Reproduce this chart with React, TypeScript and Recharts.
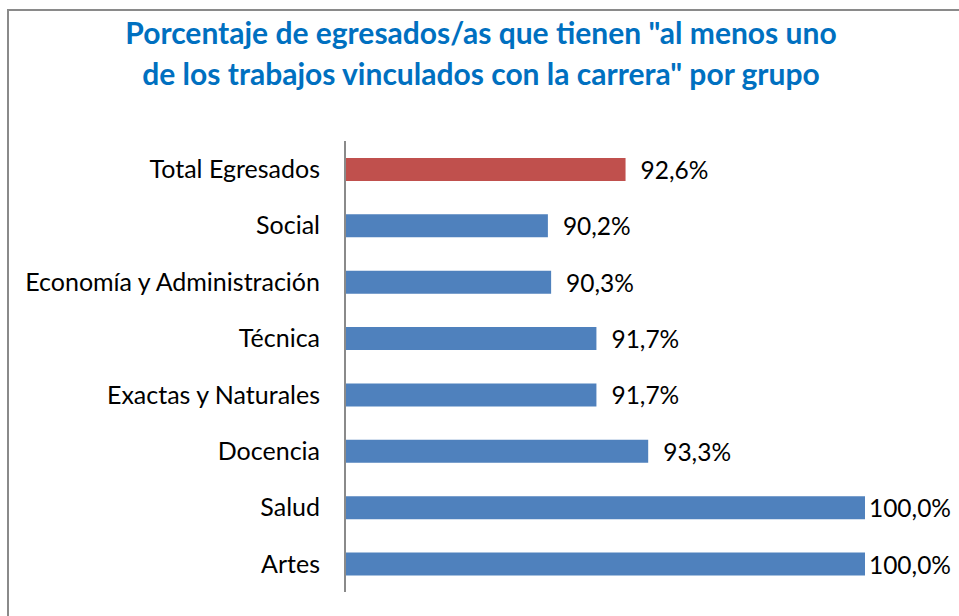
import React from "react";
import { BarChart, Bar, XAxis, YAxis, Cell, LabelList } from "recharts";

const categories = [
  "Total Egresados",
  "Social",
  "Economía y Administración",
  "Técnica",
  "Exactas y Naturales",
  "Docencia",
  "Salud",
  "Artes",
];
const values = [92.6, 90.2, 90.3, 91.7, 91.7, 93.3, 100.0, 100.0];
const colors = ["#C0504D", "#4F81BD", "#4F81BD", "#4F81BD", "#4F81BD", "#4F81BD", "#4F81BD", "#4F81BD"];
const titleLines = [
  'Porcentaje de egresados/as que tienen "al menos uno',
  'de los trabajos vinculados con la carrera" por grupo',
];

const data = categories.map((c, i) => ({ name: c, value: values[i] }));

const FONT = "Lato, 'Open Sans', sans-serif";

const fmt = (v: number) => v.toFixed(1).replace(".", ",") + "%";

const ValueLabel = (props: any) => {
  const { x, y, width, height, value } = props;
  const end = Number(x) + Number(width);
  const tx = end + 15;
  const fits = tx + 80 <= 955;
  return (
    <text
      x={fits ? tx : 951}
      y={Number(y) + Number(height) / 2}
      textAnchor={fits ? "start" : "end"}
      dominantBaseline="central"
      fill="#000"
      fontSize={24.5}
      fontFamily={FONT}
    >
      {fmt(Number(value))}
    </text>
  );
};

export default function App() {
  return (
    <div style={{ position: "absolute", left: 0, top: 0, width: 959, height: 616, background: "#fff", overflow: "hidden" }}>
      <div
        style={{
          position: "absolute",
          left: 7,
          top: 9,
          width: 1000,
          height: 700,
          borderLeft: "2px solid #8a8a8a",
          borderTop: "2px solid #8a8a8a",
        }}
      />
      <div
        style={{
          position: "absolute",
          left: 0,
          top: 12,
          width: 962,
          textAlign: "center",
          fontFamily: FONT,
          fontWeight: 700,
          fontSize: 30,
          lineHeight: "41px",
          color: "#0070C0",
        }}
      >
        {titleLines.map((t, i) => (
          <div key={i}>{t}</div>
        ))}
      </div>
      <div style={{ position: "absolute", left: 0, top: 0 }}>
        <BarChart
          width={959}
          height={616}
          data={data}
          layout="vertical"
          margin={{ top: 141, right: 94, bottom: 24, left: 0 }}
          barCategoryGap="30%"
        >
          <XAxis type="number" hide domain={[83.93, 100]} allowDataOverflow />
          <YAxis
            type="category"
            dataKey="name"
            width={345}
            axisLine={{ stroke: "#8a8a8a", strokeWidth: 2 }}
            tickLine={false}
            tickSize={0}
            tickMargin={25}
            tick={{ fill: "#000", fontSize: 25, fontFamily: FONT }}
            interval={0}
          />
          <Bar dataKey="value" isAnimationActive={false}>
            {data.map((d, i) => (
              <Cell key={i} fill={colors[i]} />
            ))}
            <LabelList dataKey="value" content={ValueLabel} />
          </Bar>
        </BarChart>
      </div>
    </div>
  );
}
